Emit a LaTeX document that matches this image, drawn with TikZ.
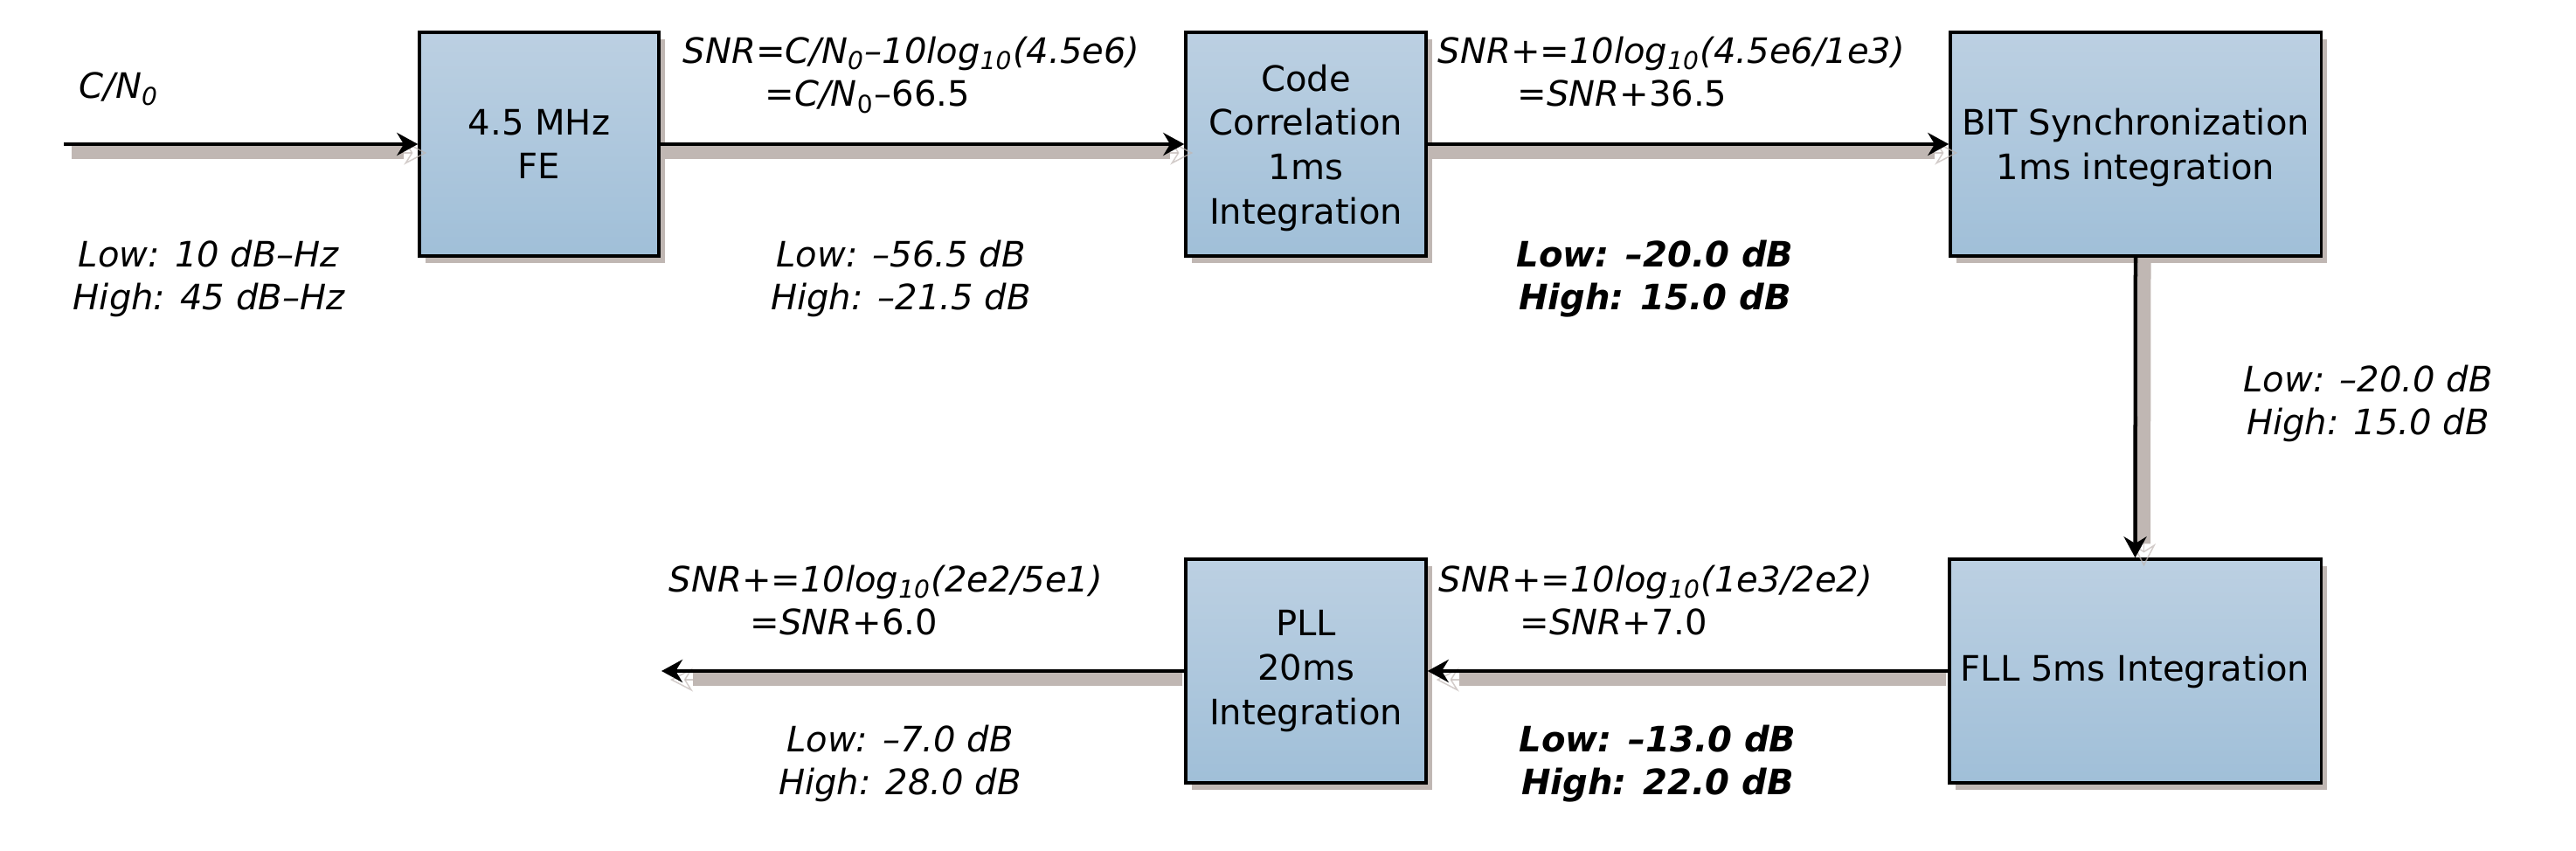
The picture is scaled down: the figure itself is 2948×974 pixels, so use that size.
\documentclass[tikz,border=0pt]{standalone}
\usepackage{fontspec}
\setmainfont{DejaVu Sans}
\usetikzlibrary{arrows.meta,shadows}

\definecolor{boxtop}{RGB}{188,208,226}
\definecolor{boxbot}{RGB}{160,191,216}
\definecolor{shadegray}{RGB}{192,183,179}

\tikzset{
  block/.style={draw, line width=0.033cm, top color=boxtop, bottom color=boxbot,
    minimum height=2.56cm, inner sep=0pt, align=center,
    font=\fontsize{11.4}{14.4}\selectfont,
    drop shadow={shadow xshift=0.07cm, shadow yshift=-0.08cm, fill=shadegray, opacity=1}},
  flow/.style={line width=0.045cm, -{Stealth[length=0.24cm,width=0.26cm]}},
  flowshade/.style={shadegray, line width=0.15cm},
  tipshade/.style={shadegray, opacity=0.7, line width=0.015cm,
    -{Stealth[length=0.26cm,width=0.27cm,open]}},
  note/.style={inner sep=0pt, align=center, font=\fontsize{11.4}{14.2}\selectfont\itshape},
  boldnote/.style={note, font=\fontsize{11.4}{14.2}\selectfont\bfseries\itshape},
}

\begin{document}
\begin{tikzpicture}[x=0.01cm,y=-0.01cm]

\useasboundingbox (0,0) rectangle (2948,974);

% blocks
\node[block, minimum width=2.74cm] (fe) at (617,165) {4.5 MHz\\FE};
\node[block, minimum width=2.75cm, text depth=0pt] (corr) at (1494.5,165) {Code\\Correlation\\1ms\\Integration};
\node[block, minimum width=4.24cm, text depth=0pt] (bitsync) at (2444,165) {BIT Synchronization\\1ms integration};
\node[block, minimum width=4.25cm] (fll) at (2443.5,768) {FLL 5ms Integration};
\node[block, minimum width=2.75cm] (pll) at (1494.5,768) {PLL\\20ms\\Integration};

\coordinate (cin) at (73,165);
\coordinate (cout) at (757,768);

% arrow shadows
\draw[flowshade] ([shift={(9,10)}]cin) -- ([shift={(-16,10)}]fe.west);
\draw[tipshade] ([shift={(-18,10)}]fe.west) -- ([shift={(10,10)}]fe.west);
\draw[flowshade] ([shift={(2,10)}]fe.east) -- ([shift={(-16,10)}]corr.west);
\draw[tipshade] ([shift={(-18,10)}]corr.west) -- ([shift={(10,10)}]corr.west);
\draw[flowshade] ([shift={(2,10)}]corr.east) -- ([shift={(-16,10)}]bitsync.west);
\draw[tipshade] ([shift={(-18,10)}]bitsync.west) -- ([shift={(10,10)}]bitsync.west);
\draw[flowshade] ([shift={(10,2)}]bitsync.south) -- ([shift={(10,-16)}]fll.north);
\draw[tipshade] ([shift={(10,-18)}]fll.north) -- ([shift={(10,10)}]fll.north);
\draw[flowshade] ([shift={(-2,10)}]fll.west) -- ([shift={(36,10)}]pll.east);
\draw[tipshade] ([shift={(38,10)}]pll.east) -- ([shift={(10,10)}]pll.east);
\draw[flowshade] ([shift={(-2,10)}]pll.west) -- ([shift={(36,10)}]cout);
\draw[tipshade] ([shift={(38,10)}]cout) -- ([shift={(10,10)}]cout);

% arrows
\draw[flow] (cin) -- (fe.west);
\draw[flow] (fe.east) -- (corr.west);
\draw[flow] (corr.east) -- (bitsync.west);
\draw[flow] (bitsync.south) -- (fll.north);
\draw[flow] (fll.west) -- (pll.east);
\draw[flow] (pll.west) -- (cout);

% labels (two-line labels sit on the baseline of their last line)
\node[note, anchor=base west] (cnlabel) at (90,113) {C/N\textsubscript{0}};
\node[note, anchor=base] (felevel) at (239,355) {Low: 10 dB--Hz\\High: 45 dB--Hz};

\node[note, anchor=base west, align=left] (snrfe) at (781,122)
  {SNR=C/N\textsubscript{0}--10log\textsubscript{10}(4.5e6)\\\hspace*{0.94cm}\upshape=\textit{C/N}\textsubscript{0}--66.5};
\node[note, anchor=base] (corrlevel) at (1031,355) {Low: --56.5 dB\\High: --21.5 dB};

\node[note, anchor=base west, align=left] (snrcorr) at (1645,122)
  {SNR+=10log\textsubscript{10}(4.5e6/1e3)\\\hspace*{0.91cm}\upshape=\textit{SNR}+36.5};
\node[boldnote, anchor=base] (bitlevel) at (1894,355) {Low: --20.0 dB\\High: 15.0 dB};

\node[note, anchor=base] (flllevel) at (2710,498) {Low: --20.0 dB\\High: 15.0 dB};

\node[note, anchor=base west, align=left] (snrfll) at (1646,727)
  {SNR+=10log\textsubscript{10}(1e3/2e2)\\\hspace*{0.93cm}\upshape=\textit{SNR}+7.0};
\node[boldnote, anchor=base] (plllevel) at (1897,910) {Low: --13.0 dB\\High: 22.0 dB};

\node[note, anchor=base west, align=left] (snrpll) at (765,727)
  {SNR+=10log\textsubscript{10}(2e2/5e1)\\\hspace*{0.93cm}\upshape=\textit{SNR}+6.0};
\node[note, anchor=base] (outlevel) at (1030,910) {Low: --7.0 dB\\High: 28.0 dB};

\end{tikzpicture}
\end{document}
